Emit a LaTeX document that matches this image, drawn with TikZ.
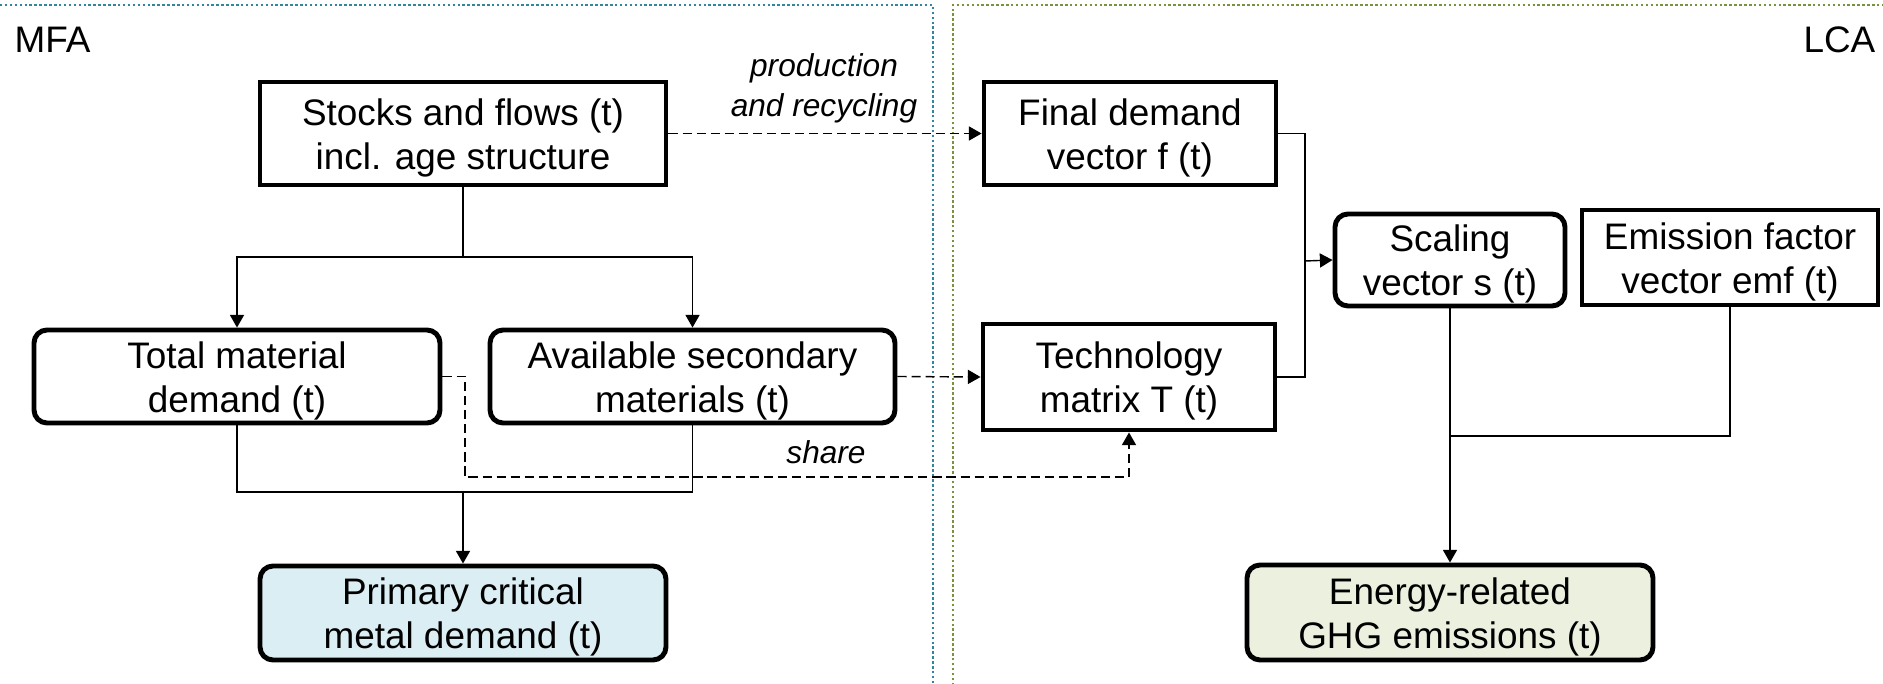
\documentclass[tikz,border=0pt]{standalone}
\usepackage{fontspec}
\setmainfont{Liberation Sans}
\usetikzlibrary{arrows.meta}
\definecolor{mfablue}{HTML}{31859C}
\definecolor{lcagreen}{HTML}{77933C}
\definecolor{mfafill}{HTML}{DBEEF4}
\definecolor{lcafill}{HTML}{EBF1DE}
\tikzset{
  box/.style={draw, line width=1.4pt, align=center, inner sep=0pt, text height=22.6pt,
    font=\fontsize{10.5}{12.6}\selectfont},
  rbox/.style={box, rounded corners=1.3mm},
  link/.style={line width=0.4pt},
  arr/.style={link, -{Triangle[length=3.6pt,width=4pt]}},
  darr/.style={arr, dash pattern=on 2.6pt off 1.4pt},
  lbl/.style={font=\fontsize{9}{11.4}\selectfont\itshape, align=center, inner sep=0pt},
  panel/.style={line width=0.7pt, dash pattern=on 0.7pt off 0.7pt}
}
\begin{document}
\begin{tikzpicture}[x=0.1mm,y=-0.1mm]
            \useasboundingbox (0,0) rectangle (1883,684);
            % panels
            \draw[panel, mfablue] (-5,5) -- (933,5) -- (933,690);
            \draw[panel, lcagreen] (953,690) -- (953,5) -- (1890,5);
            \node[anchor=west, inner sep=0pt, font=\fontsize{10.5}{12.6}\selectfont] (mfa) at (14,40) {MFA};
            \node[anchor=east, inner sep=0pt, font=\fontsize{10.5}{12.6}\selectfont] (lca) at (1876,40) {LCA};
            % MFA side
            \node[box, minimum width=40.6mm, minimum height=10.3mm] (stocks) at (463,133.5) {Stocks and flows (t)\\incl. age structure};
            \node[rbox, minimum width=40.6mm, minimum height=9.3mm] (total) at (237,376.5) {Total material\\demand (t)};
            \node[rbox, minimum width=40.5mm, minimum height=9.3mm] (avail) at (692.5,376.5) {Available secondary\\materials (t)};
            \node[rbox, fill=mfafill, minimum width=40.6mm, minimum height=9.4mm] (primary) at (463,613) {Primary critical\\metal demand (t)};
            % LCA side
            \node[box, minimum width=29.2mm, minimum height=10.3mm] (final) at (1130,133.5) {Final demand\\vector f (t)};
            \node[box, minimum width=29.2mm, minimum height=10.6mm] (tech) at (1129,377) {Technology\\matrix T (t)};
            \node[rbox, minimum width=23mm, minimum height=9.2mm] (scaling) at (1450,260) {Scaling\\vector s (t)};
            \node[box, minimum width=29.6mm, minimum height=9.5mm] (emf) at (1730,257.5) {Emission factor\\vector emf (t)};
            \node[rbox, fill=lcafill, minimum width=40.6mm, minimum height=9.5mm] (ghg) at (1450,612.5) {Energy-related\\GHG emissions (t)};
            % stocks to demand
            \coordinate (split) at (463,257);
            \draw[link] (stocks.south) -- (split);
            \draw[arr] (split) -| (total.north);
            \draw[arr] (split) -| (avail.north);
            \coordinate (merge) at (463,492);
            \draw[link] (total.south) |- (merge) -| (avail.south);
            \draw[arr] (merge) -- (primary.north);
            % MFA to LCA
            \draw[darr] (stocks.east) -- (final.west);
            \node[lbl] (prodlbl) at (824,88) {production\\and recycling};
            \draw[darr] (avail.east) -- (tech.west);
            \coordinate (sharebend) at (465,477);
            \draw[darr] (total.east) -| (sharebend) -| (tech.south);
            \node[lbl] (sharelbl) at (826,452) {share};
            % LCA chain
            \coordinate (join) at (1305,261);
            \draw[link] (final.east) -| (join) |- (tech.east);
            \draw[arr] (join) -- (scaling.west);
            \coordinate (emjoin) at (1450,436);
            \draw[link] (emf.south) |- (emjoin);
            \draw[arr] (scaling.south) -- (ghg.north);
\end{tikzpicture}
\end{document}
